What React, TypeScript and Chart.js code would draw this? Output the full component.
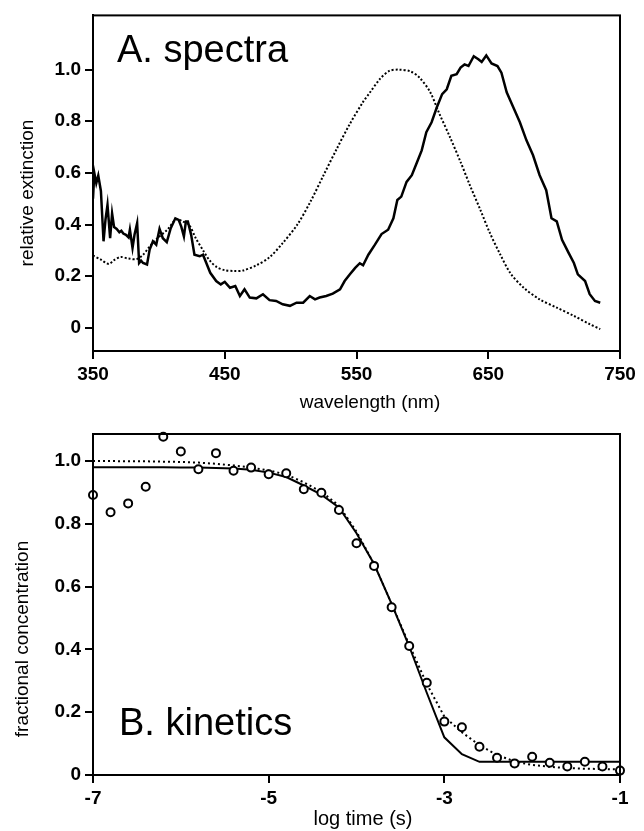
import React, { useEffect, useRef } from 'react';
import { Chart, registerables } from 'chart.js';

Chart.register(...registerables);

// ---- A. spectra ----
const solidWavelength = [
  350, 351, 352.5, 354, 356, 358, 359.5, 361, 363, 364.5, 366, 368, 370, 371.5, 373, 375, 377, 378, 380, 381.5,
  383.5, 385, 386.5, 388, 391, 393, 395.5, 398, 400.5, 403, 406, 409, 412.5, 415, 417, 419, 420.5, 422, 424.5, 427,
  431, 433.5, 436, 439, 443.5, 447, 450, 454, 458, 461.5, 465, 469, 474, 479, 484, 489, 494, 499.5, 504.5, 509.5,
  514.5, 518.5, 522, 527, 532, 537.5, 541, 545, 549, 552.5, 555, 559, 564, 569, 574, 578, 581, 584, 588, 592, 596,
  599.5, 603, 607, 611, 615, 618.5, 622, 626, 629, 632, 635, 639, 642.5, 645, 648.5, 652.5, 657, 660, 664, 669, 674,
  679, 684, 689, 694, 698, 702, 706, 711, 715, 718, 723.5, 727, 731, 735,
];
const solidExtinction = [
  0.5, 0.6, 0.56, 0.59, 0.53, 0.335, 0.42, 0.476, 0.347, 0.443, 0.39, 0.383, 0.37, 0.376, 0.365, 0.36, 0.35, 0.38,
  0.309, 0.36, 0.405, 0.251, 0.26, 0.251, 0.245, 0.303, 0.335, 0.322, 0.383, 0.347, 0.332, 0.386, 0.424, 0.418,
  0.392, 0.354, 0.412, 0.412, 0.36, 0.283, 0.277, 0.283, 0.251, 0.213, 0.181, 0.168, 0.178, 0.155, 0.162, 0.123,
  0.149, 0.117, 0.114, 0.13, 0.107, 0.104, 0.091, 0.085, 0.097, 0.097, 0.123, 0.11, 0.117, 0.123, 0.132, 0.149,
  0.181, 0.207, 0.232, 0.25, 0.242, 0.283, 0.322, 0.363, 0.38, 0.424, 0.495, 0.508, 0.565, 0.591, 0.642, 0.687,
  0.758, 0.796, 0.854, 0.905, 0.924, 0.976, 0.982, 1.008, 1.02, 1.014, 1.052, 1.04, 1.03, 1.055, 1.024, 1.014,
  0.988, 0.912, 0.854, 0.796, 0.726, 0.668, 0.591, 0.533, 0.424, 0.412, 0.341, 0.29, 0.251, 0.207, 0.181, 0.13,
  0.104, 0.097,
];
const dottedWavelength = [
  350, 356, 362, 366, 371, 377, 383, 388, 393, 399, 407, 413, 418, 423, 428, 434, 439, 444, 450, 457, 464, 474, 484,
  494, 505, 515, 525, 535, 545, 555, 560, 568, 575, 582, 591, 598, 606, 613, 621, 629, 636, 644, 651, 659, 667, 677,
  689, 702, 715, 727, 735,
];
const dottedExtinction = [
  0.28, 0.264, 0.247, 0.262, 0.274, 0.268, 0.266, 0.283, 0.315, 0.347, 0.383, 0.42, 0.412, 0.398, 0.347, 0.296,
  0.258, 0.235, 0.223, 0.22, 0.222, 0.242, 0.273, 0.328, 0.399, 0.488, 0.591, 0.693, 0.79, 0.875, 0.91, 0.965,
  0.995, 1.0, 0.993, 0.968, 0.912, 0.828, 0.738, 0.642, 0.553, 0.457, 0.37, 0.285, 0.21, 0.155, 0.11, 0.078, 0.046,
  0.014, -0.005,
];
const spectraXTicks = [350, 450, 550, 650, 750];
const spectraYTicks = [0, 0.2, 0.4, 0.6, 0.8, 1.0];

// ---- B. kinetics ----
const logTime = [
  -7, -6.8, -6.6, -6.4, -6.2, -6, -5.8, -5.6, -5.4, -5.2, -5, -4.8, -4.6, -4.4, -4.2, -4, -3.8, -3.6, -3.4, -3.2, -3,
  -2.8, -2.6, -2.4, -2.2, -2, -1.8, -1.6, -1.4, -1.2, -1,
];
const observed = [
  0.892, 0.837, 0.865, 0.918, 1.077, 1.03, 0.974, 1.025, 0.969, 0.979, 0.958, 0.961, 0.91, 0.899, 0.844, 0.738,
  0.666, 0.534, 0.411, 0.294, 0.17, 0.152, 0.09, 0.055, 0.037, 0.058, 0.039, 0.027, 0.042, 0.027, 0.014,
];
const fitSolid = [
  0.98, 0.98, 0.98, 0.98, 0.98, 0.979, 0.979, 0.978, 0.976, 0.972, 0.963, 0.949, 0.922, 0.893, 0.852, 0.77, 0.672,
  0.545, 0.41, 0.262, 0.12, 0.066, 0.042, 0.042, 0.042, 0.042, 0.042, 0.042, 0.042, 0.042, 0.042,
];
const fitDotted = [
  1.0, 1.0, 0.999, 0.999, 0.998, 0.997, 0.995, 0.991, 0.986, 0.979, 0.97, 0.957, 0.932, 0.902, 0.858, 0.775, 0.672,
  0.545, 0.415, 0.29, 0.186, 0.136, 0.095, 0.064, 0.043, 0.032, 0.026, 0.022, 0.02, 0.019, 0.018,
];
const kineticsXTicks = [-7, -5, -3, -1];
const kineticsYTicks = [0, 0.2, 0.4, 0.6, 0.8, 1.0];

const FAMILY = '"Liberation Sans", Arial, Helvetica, sans-serif';

const toPoints = (xs: number[], ys: number[]) => xs.map((x, i) => ({ x, y: ys[i] }));

const fmtY = (v: number) => (v === 0 ? '0' : v.toFixed(1));

interface Labels {
  panel: string;
  panelX: number;
  panelY: number;
  yTitle: string;
  yTitleX: number;
  yTitleY: number;
  xTitle: string;
  xTitleX: number;
  xTitleY: number;
  xTitleSize: number;
}

// frame round the plot area and the free-standing texts
const framePlugin = (l: Labels) => ({
  id: 'frameAndText',
  afterDraw(chart: Chart) {
    const { ctx, chartArea } = chart;
    ctx.save();
    ctx.strokeStyle = '#000';
    ctx.lineWidth = 2;
    ctx.strokeRect(chartArea.left, chartArea.top, chartArea.right - chartArea.left, chartArea.bottom - chartArea.top);

    ctx.fillStyle = '#000';
    ctx.textBaseline = 'alphabetic';
    ctx.textAlign = 'left';
    ctx.font = `38px ${FAMILY}`;
    ctx.fillText(l.panel, l.panelX, l.panelY);

    ctx.textAlign = 'center';
    ctx.font = `${l.xTitleSize}px ${FAMILY}`;
    ctx.fillText(l.xTitle, l.xTitleX, l.xTitleY);

    ctx.font = `19px ${FAMILY}`;
    ctx.translate(l.yTitleX, l.yTitleY);
    ctx.rotate(-Math.PI / 2);
    ctx.fillText(l.yTitle, 0, 0);
    ctx.restore();
  },
});

const axisCommon = (ticks: number[], fmt: (v: number) => string, size: number) => ({
  type: 'linear' as const,
  afterBuildTicks: (scale: any) => {
    scale.ticks = ticks.map((value) => ({ value }));
  },
  afterFit: (scale: any) => {
    if (scale.isHorizontal()) scale.height = size;
    else scale.width = size;
  },
  border: { display: true, color: '#000', width: 2 },
  grid: { drawOnChartArea: false, color: '#000', lineWidth: 2, tickLength: 8 },
  ticks: {
    color: '#000',
    padding: 4,
    maxRotation: 0,
    autoSkip: false,
    font: { family: FAMILY, size: 19, weight: 'bold' as const },
    callback: (v: any) => fmt(Number(v)),
  },
});

const SpectraChart: React.FC = () => {
  const ref = useRef<HTMLCanvasElement>(null);
  useEffect(() => {
    if (!ref.current) return;
    const chart = new Chart(ref.current, {
      type: 'line',
      data: {
        datasets: [
          {
            data: toPoints(solidWavelength, solidExtinction),
            borderColor: '#000',
            borderWidth: 2.5,
            pointRadius: 0,
            tension: 0,
          },
          {
            data: toPoints(dottedWavelength, dottedExtinction),
            borderColor: '#000',
            borderWidth: 2,
            borderDash: [2, 2],
            pointRadius: 0,
            tension: 0.3,
          },
        ],
      },
      options: {
        responsive: false,
        animation: false,
        layout: { padding: { top: 13, right: 24, left: 0, bottom: 0 } },
        plugins: { legend: { display: false }, tooltip: { enabled: false } },
        scales: {
          x: { ...axisCommon(spectraXTicks, (v) => String(v), 64), min: 350, max: 750 },
          y: { ...axisCommon(spectraYTicks, fmtY, 93), min: -0.09, max: 1.21 },
        },
      },
      plugins: [
        framePlugin({
          panel: 'A. spectra',
          panelX: 117,
          panelY: 62,
          yTitle: 'relative extinction',
          yTitleX: 33,
          yTitleY: 193,
          xTitle: 'wavelength (nm)',
          xTitleX: 370,
          xTitleY: 408,
          xTitleSize: 19,
        }),
      ],
    });
    return () => chart.destroy();
  }, []);
  return <canvas ref={ref} width={644} height={415} style={{ display: 'block' }} />;
};

const KineticsChart: React.FC = () => {
  const ref = useRef<HTMLCanvasElement>(null);
  useEffect(() => {
    if (!ref.current) return;
    const chart = new Chart(ref.current, {
      type: 'line',
      data: {
        datasets: [
          {
            data: toPoints(logTime, observed),
            showLine: false,
            pointRadius: 4,
            pointBorderWidth: 2,
            pointBorderColor: '#000',
            pointBackgroundColor: '#fff',
            clip: false,
          },
          {
            data: toPoints(logTime, fitSolid),
            borderColor: '#000',
            borderWidth: 2,
            pointRadius: 0,
            tension: 0,
          },
          {
            data: toPoints(logTime, fitDotted),
            borderColor: '#000',
            borderWidth: 2,
            borderDash: [2, 3],
            pointRadius: 0,
            tension: 0,
          },
        ],
      },
      options: {
        responsive: false,
        animation: false,
        layout: { padding: { top: 19, right: 24, left: 0, bottom: 0 } },
        plugins: { legend: { display: false }, tooltip: { enabled: false } },
        scales: {
          x: { ...axisCommon(kineticsXTicks, (v) => String(v), 56), min: -7, max: -1 },
          y: { ...axisCommon(kineticsYTicks, fmtY, 93), min: 0, max: 1.086 },
        },
      },
      plugins: [
        framePlugin({
          panel: 'B. kinetics',
          panelX: 119,
          panelY: 320,
          yTitle: 'fractional concentration',
          yTitleX: 28,
          yTitleY: 224,
          xTitle: 'log time (s)',
          xTitleX: 363,
          xTitleY: 410,
          xTitleSize: 20,
        }),
      ],
    });
    return () => chart.destroy();
  }, []);
  return <canvas ref={ref} width={644} height={416} style={{ display: 'block' }} />;
};

export default function App() {
  return (
    <div style={{ position: 'absolute', left: 0, top: 0, width: 644, height: 831, background: '#fff' }}>
      <SpectraChart />
      <KineticsChart />
    </div>
  );
}
